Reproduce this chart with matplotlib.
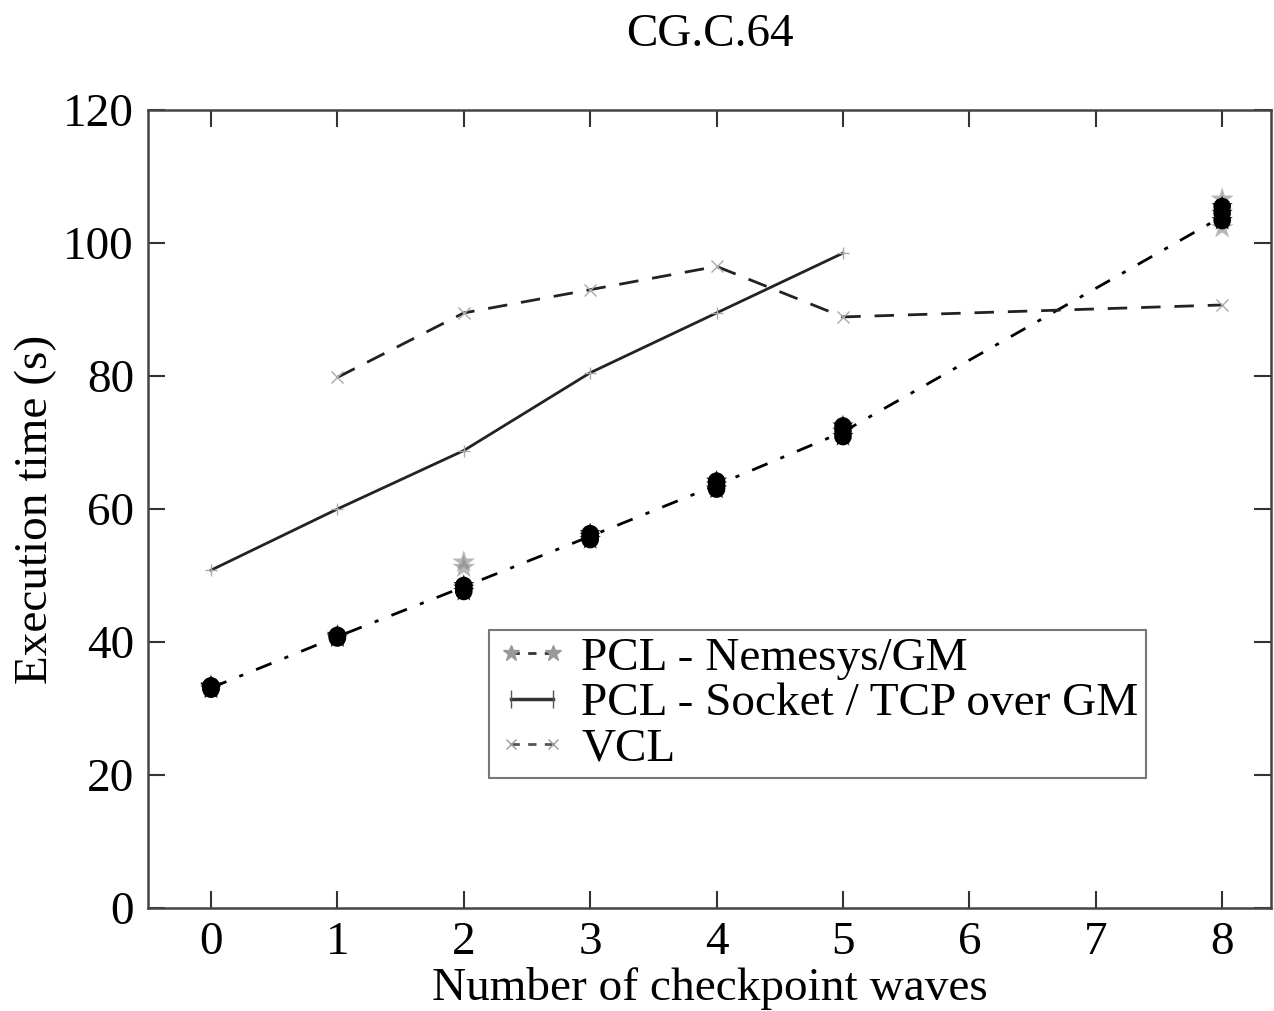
import numpy as np
import matplotlib.pyplot as plt

plt.rcParams['font.family'] = ['Liberation Serif', 'DejaVu Serif']

# PCL - Nemesys/GM: several runs per number of waves
nem_x = [0, 1, 2, 3, 4, 5, 8]
nem_runs = [
    [32.9, 33.1, 33.3, 33.4],
    [40.6, 40.8, 41.0],
    [47.6, 48.1, 48.5],
    [55.4, 55.9, 56.3],
    [63.0, 63.6, 64.2],
    [70.9, 71.7, 72.5],
    [103.4, 104.5, 105.5],
]
# a few slower runs drawn lighter
nem_light_x = [2, 2, 8, 8]
nem_light_y = [51.2, 52.0, 102.3, 106.6]
nem_line = [33.1, 40.8, 48.3, 55.9, 63.6, 71.6, 104.0]

# PCL - Socket / TCP over GM
sock_x = [0, 1, 2, 3, 4, 5]
sock_y = [50.8, 60.0, 68.8, 80.5, 89.5, 98.5]

# VCL
vcl_x = [1, 2, 3, 4, 5, 8]
vcl_y = [79.8, 89.5, 93.0, 96.5, 88.9, 90.7]

fig = plt.figure(figsize=(12.74, 10.11), dpi=100)
ax = fig.add_axes([0.116, 0.102, 0.882, 0.789])

fs = 34

# Nemesys runs (blobs of overlapping star markers)
ax.scatter(nem_light_x, nem_light_y, marker='*', s=300, color='#888888',
           alpha=0.6, edgecolors='none', zorder=3)
for x, runs in zip(nem_x, nem_runs):
    ax.scatter([x] * len(runs), runs, marker='o', s=160, color='black',
               edgecolors='none', zorder=3)
    ax.scatter([x] * len(runs), runs, marker='*', s=260, color='black',
               alpha=0.9, edgecolors='none', zorder=3)
ax.plot(nem_x, nem_line, color='black', linestyle=(0, (6, 5, 1.5, 5)),
        linewidth=2, zorder=2)

ax.plot(sock_x, sock_y, color='#222222', linestyle='-', linewidth=2,
        marker='+', markersize=9, markeredgecolor='#aaaaaa', zorder=2)
ax.plot(vcl_x, vcl_y, color='#222222', linestyle=(0, (7, 5)), linewidth=2,
        marker='x', markersize=8, markeredgecolor='#aaaaaa', zorder=2)

# legend proxies
h1, = ax.plot([], [], color='#333333', linestyle=(0, (3, 3)), linewidth=2,
              marker='*', markersize=12, markerfacecolor='#999999',
              markeredgecolor='#999999')
h2, = ax.plot([], [], color='#333333', linestyle='-', linewidth=2.5,
              marker='|', markersize=13, markeredgecolor='#555555')
h3, = ax.plot([], [], color='#555555', linestyle=(0, (3, 3)), linewidth=2,
              marker='x', markersize=7, markeredgecolor='#999999')
leg = ax.legend([h1, h2, h3],
                ['PCL - Nemesys/GM', 'PCL - Socket / TCP over GM', 'VCL'],
                loc='lower left', bbox_to_anchor=(0.304, 0.163),
                borderaxespad=0, fontsize=fs, frameon=True, fancybox=False,
                handlelength=1.5, handletextpad=0.3, labelspacing=0.05,
                borderpad=0.15, numpoints=2)
leg.get_frame().set_edgecolor('#555555')
leg.get_frame().set_linewidth(1.5)

ax.set_xlim(-0.5, 8.39)
ax.set_ylim(0, 120)
ax.set_xticks([0, 1, 2, 3, 4, 5, 6, 7, 8])
ax.set_yticks([0, 20, 40, 60, 80, 100, 120])
ax.tick_params(direction='in', length=12, width=1.5, top=True, right=True,
               labelsize=fs, colors='#333333', labelcolor='black', pad=10)
for s in ax.spines.values():
    s.set_color('#444444')
    s.set_linewidth(1.8)

ax.set_xlabel('Number of checkpoint waves', fontsize=fs, labelpad=2)
ax.set_ylabel('Execution time (s)', fontsize=fs, labelpad=4)
ax.set_title('CG.C.64', fontsize=fs, pad=46)

fig.savefig('out.png', dpi=100)
